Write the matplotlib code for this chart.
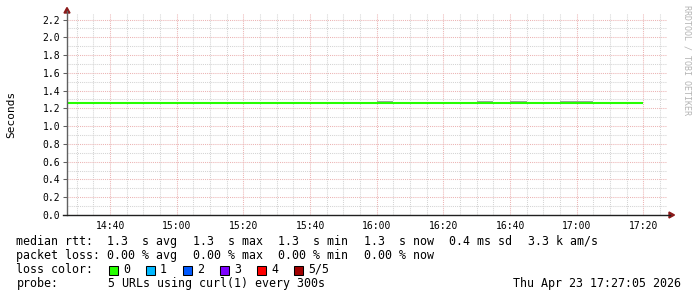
import matplotlib
matplotlib.use("Agg")
import matplotlib.pyplot as plt
from matplotlib.lines import Line2D
from matplotlib.patches import Polygon, Rectangle
from matplotlib.ticker import FixedLocator, MultipleLocator

# ---------------- data ----------------
slot_edges = ["14:25", "14:30", "14:35", "14:40", "14:45", "14:50", "14:55",
              "15:00", "15:05", "15:10", "15:15", "15:20", "15:25", "15:30",
              "15:35", "15:40", "15:45", "15:50", "15:55", "16:00", "16:05",
              "16:10", "16:15", "16:20", "16:25", "16:30", "16:35", "16:40",
              "16:45", "16:50", "16:55", "17:00", "17:05", "17:10", "17:15",
              "17:20"]
median_rtt = [1.26, 1.26, 1.26, 1.26, 1.26, 1.26, 1.26, 1.26, 1.26, 1.26,
              1.26, 1.26, 1.26, 1.26, 1.26, 1.26, 1.26, 1.26, 1.26, 1.26,
              1.26, 1.26, 1.26, 1.26, 1.26, 1.26, 1.26, 1.26, 1.26, 1.26,
              1.26, 1.26, 1.26, 1.26, 1.26]
smoke_max = [1.262, 1.262, 1.262, 1.262, 1.262, 1.262, 1.262, 1.262, 1.262, 1.262,
             1.262, 1.262, 1.262, 1.262, 1.262, 1.262, 1.262, 1.262, 1.262, 1.284,
             1.262, 1.262, 1.262, 1.262, 1.262, 1.284, 1.262, 1.284, 1.262, 1.262,
             1.284, 1.284, 1.262, 1.262, 1.262]
smoke_min = [1.256, 1.256, 1.256, 1.256, 1.256, 1.256, 1.256, 1.256, 1.256, 1.256,
             1.256, 1.256, 1.256, 1.256, 1.256, 1.256, 1.256, 1.256, 1.256, 1.256,
             1.256, 1.256, 1.256, 1.256, 1.256, 1.256, 1.256, 1.256, 1.256, 1.256,
             1.256, 1.256, 1.256, 1.256, 1.256]
x_start, x_end = "14:27:05", "17:27:05"
x_tick_labels = ["14:40", "15:00", "15:20", "15:40", "16:00", "16:20",
                 "16:40", "17:00", "17:20"]
y_ticks = [0.0, 0.2, 0.4, 0.6, 0.8, 1.0, 1.2, 1.4, 1.6, 1.8, 2.0, 2.2]
loss_labels = ["0", "1", "2", "3", "4", "5/5"]
loss_colors = ["#26ff00", "#00b8ff", "#0059ff", "#7e00ff", "#ff0000", "#a10000"]
rtt_items = ["median rtt:  1.3  s avg", "1.3  s max", "1.3  s min",
             "1.3  s now", "0.4 ms sd", "3.3 k am/s"]
loss_items = ["packet loss: 0.00 % avg", "0.00 % max", "0.00 % min",
              "0.00 % now"]
probe_text = "5 URLs using curl(1) every 300s"
stamp_text = "Thu Apr 23 17:27:05 2026"


def to_min(s):
    parts = [int(p) for p in s.split(":")]
    m = parts[0] * 60 + parts[1]
    if len(parts) > 2:
        m += parts[2] / 60.0
    return m


W, H = 697, 297
MONO = "DejaVu Sans Mono"


def fx(px):
    return px / W


def fy(py):
    return 1 - py / H


fig = plt.figure(figsize=(W / 100, H / 100), dpi=100)
fig.patch.set_facecolor("white")

ax_left, ax_right, ax_bottom, ax_top = 67, 667, 215, 13
ax = fig.add_axes([fx(ax_left), fy(ax_bottom), fx(ax_right) - fx(ax_left),
                   fy(ax_top) - fy(ax_bottom)])
ax.set_facecolor("white")

edges = [to_min(e) for e in slot_edges]
x0, x1 = to_min(x_start), to_min(x_end)
ymax = 2.2 * (ax_bottom - ax_top) / (ax_bottom - 19.5)
ax.set_xlim(x0, x1)
ax.set_ylim(0, ymax)

# grid
major_x = [to_min(t) for t in x_tick_labels]
ax.xaxis.set_major_locator(FixedLocator(major_x))
ax.xaxis.set_minor_locator(MultipleLocator(5))
ax.yaxis.set_major_locator(FixedLocator(y_ticks))
ax.yaxis.set_minor_locator(MultipleLocator(0.1))
ax.set_xticklabels(x_tick_labels)
ax.set_yticklabels([f"{v:.1f}" for v in y_ticks])
dot = (0, (1, 1))
ax.grid(which="minor", color="#d4d4d4", linestyle=dot, linewidth=0.75)
ax.grid(which="major", color="#ecb4b4", linestyle=dot, linewidth=0.75)
ax.set_axisbelow(True)

for s in ax.spines.values():
    s.set_visible(False)
ax.tick_params(axis="both", which="minor", length=0)
ax.tick_params(axis="y", which="major", length=3, width=0.75, color="#606060",
               pad=2, labelsize=7)
ax.tick_params(axis="x", which="major", length=0, pad=4, labelsize=7)
for lab in ax.get_xticklabels() + ax.get_yticklabels():
    lab.set_fontfamily(MONO)

# smoke + median
ax.stairs(smoke_max, edges, baseline=smoke_min, fill=True, color="#a0a0a0",
          linewidth=0)
ax.stairs(median_rtt, edges, baseline=None, color=loss_colors[0], linewidth=1.5)

# axes lines and arrows
fig.add_artist(Line2D([fx(67), fx(67)], [fy(215), fy(11)], color="#606060",
                      linewidth=1, transform=fig.transFigure))
fig.add_artist(Line2D([fx(63), fx(670)], [fy(215), fy(215)], color="#202020",
                      linewidth=1, transform=fig.transFigure))
fig.add_artist(Polygon([[fx(64), fy(13)], [fx(70), fy(13)], [fx(67), fy(7.5)]],
                       closed=True, color="#8b1a1a", transform=fig.transFigure))
fig.add_artist(Polygon([[fx(669), fy(212)], [fx(669), fy(218)], [fx(674.5), fy(215)]],
                       closed=True, color="#8b1a1a", transform=fig.transFigure))

# y label & watermark
fig.text(fx(11.5), fy(114), "Seconds", rotation=90, ha="center", va="center",
         family=MONO, fontsize=8)
fig.text(fx(686.5), fy(60), "RRDTOOL / TOBI OETIKER", rotation=270,
         ha="center", va="center", family=MONO, fontsize=6, color="#b4b4b4")

# legend text
fs = 8.35
char_w = 0.602 * fs * 100 / 72
gap = 15.7
lx = 16.5


def legend_row(items, ypx):
    x = lx
    for it in items:
        fig.text(fx(x), fy(ypx), it, ha="left", va="center", family=MONO,
                 fontsize=fs)
        x += len(it) * char_w + gap


legend_row(rtt_items, 241.5)
legend_row(loss_items, 255.5)
fig.text(fx(lx), fy(269.5), "loss color:", ha="left", va="center", family=MONO, fontsize=fs)
for i, (lab, col) in enumerate(zip(loss_labels, loss_colors)):
    bx = 108.5 + 37 * i
    fig.add_artist(Rectangle((fx(bx), fy(275)), fx(9), 9 / H, facecolor=col,
                             edgecolor="black", linewidth=0.75,
                             transform=fig.transFigure))
    fig.text(fx(bx + 14.5), fy(269.5), lab, ha="left", va="center", family=MONO,
             fontsize=fs)
fig.text(fx(lx), fy(283.5), "probe:", ha="left", va="center", family=MONO, fontsize=fs)
fig.text(fx(107.5), fy(283.5), probe_text, ha="left", va="center", family=MONO, fontsize=fs)
fig.text(fx(681), fy(283.5), stamp_text, ha="right", va="center", family=MONO, fontsize=fs)

fig.savefig("out.png", dpi=100, facecolor="white")
